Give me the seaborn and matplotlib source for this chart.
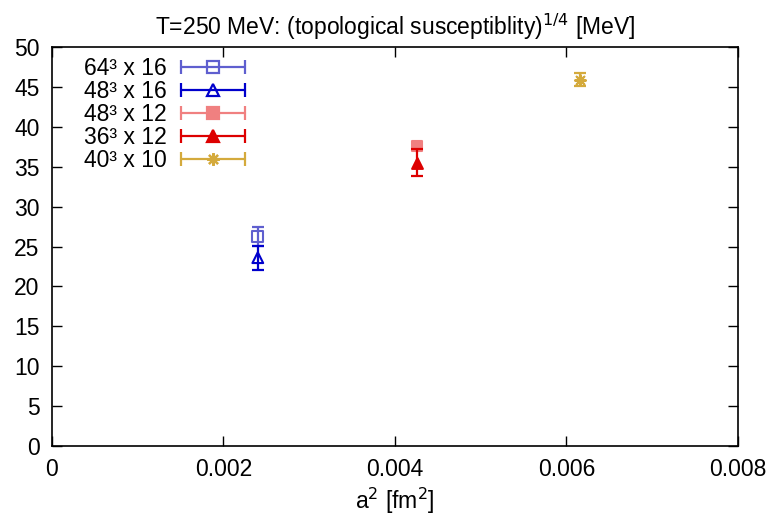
import numpy as np
import pandas as pd
import matplotlib
matplotlib.use("Agg")
import matplotlib.pyplot as plt
import seaborn as sns
from matplotlib.lines import Line2D
from matplotlib.legend_handler import HandlerLine2D, HandlerTuple
from matplotlib.ticker import FuncFormatter, MultipleLocator

# --- data ---
labels = ["64³ x 16", "48³ x 16", "48³ x 12", "36³ x 12", "40³ x 10"]
a2 = [0.00240, 0.00240, 0.00426, 0.00426, 0.00616]
chi14 = [26.3, 23.6, 37.6, 35.5, 45.9]
chi14_err = [1.2, 1.5, 0.4, 1.7, 0.8]
colors = ["#5f5fcf", "#0000cc", "#f08080", "#dd0000", "#d4aa3c"]
markers = ["s", "^", "s", "^", (8, 2, 0)]
filled = [False, False, True, True, True]
xticks = [0, 0.002, 0.004, 0.006, 0.008]

df = pd.DataFrame({"label": labels, "a2": a2, "chi": chi14, "err": chi14_err})

sns.set_theme(style="ticks")
font = ["Liberation Sans Narrow", "Liberation Sans", "DejaVu Sans"]
plt.rcParams["font.family"] = font
plt.rcParams["text.color"] = "black"
plt.rcParams["axes.labelcolor"] = "black"
plt.rcParams["mathtext.fontset"] = "custom"
plt.rcParams["mathtext.rm"] = "Liberation Sans Narrow"
plt.rcParams["mathtext.it"] = "Liberation Sans Narrow:italic"
plt.rcParams["mathtext.bf"] = "Liberation Sans Narrow:bold"
fs = 16.5

fig = plt.figure(figsize=(7.69, 5.25), dpi=100)
ax = fig.add_axes([52 / 769, 1 - 446 / 525, 686 / 769, 399 / 525])

handles = []
hmap = {}
for i, row in df.iterrows():
    c = colors[i]
    ax.errorbar(row["a2"], row["chi"], yerr=row["err"], fmt="none",
                ecolor=c, elinewidth=1.6, capsize=4, capthick=1.6)
    mk = markers[i]
    if filled[i]:
        sns.scatterplot(x=[row["a2"]], y=[row["chi"]], ax=ax, marker=mk,
                        color=c, s=60, linewidth=1.5, edgecolor=c)
    else:
        sns.scatterplot(x=[row["a2"]], y=[row["chi"]], ax=ax, marker=mk,
                        facecolors="none", edgecolor=c, s=60, linewidth=1.5)
    cap = Line2D([], [], color=c, lw=1.6, marker="|", markersize=10, markeredgewidth=1.6)
    mark = Line2D([], [], color=c, lw=0, marker=mk, markersize=9,
                  markeredgewidth=1.6,
                  markerfacecolor=c if filled[i] else "none", markeredgecolor=c)
    hmap[cap] = HandlerLine2D(numpoints=2, marker_pad=0)
    hmap[mark] = HandlerLine2D(numpoints=1)
    handles.append((cap, mark))

hmap[tuple] = HandlerTuple(ndivide=1, pad=0)
leg = ax.legend(handles, labels, handler_map=hmap, loc="upper left",
                bbox_to_anchor=(0.026, 1.01), frameon=False, markerfirst=False,
                fontsize=fs, handlelength=2.8, handletextpad=0.65,
                labelspacing=0.0, borderaxespad=0.2)

ax.set_xlim(0, 0.008)
ax.set_ylim(0, 50)
ax.set_xticks(xticks)
ax.xaxis.set_major_formatter(FuncFormatter(lambda v, p: "0" if v == 0 else f"{v:.3f}"))
ax.yaxis.set_major_locator(MultipleLocator(5))
ax.tick_params(direction="in", length=7, width=1, top=True, right=True,
               labelsize=fs, pad=9, colors="black")
for s in ax.spines.values():
    s.set_color("black")
    s.set_linewidth(1.2)

ax.set_xlabel("a$^2$ [fm$^2$]", fontsize=fs, labelpad=3)
ax.set_ylabel("")
ax.set_title("T=250 MeV: (topological susceptiblity)$^{1/4}$ [MeV]", fontsize=fs, pad=9)

fig.savefig("out.png", dpi=100)
